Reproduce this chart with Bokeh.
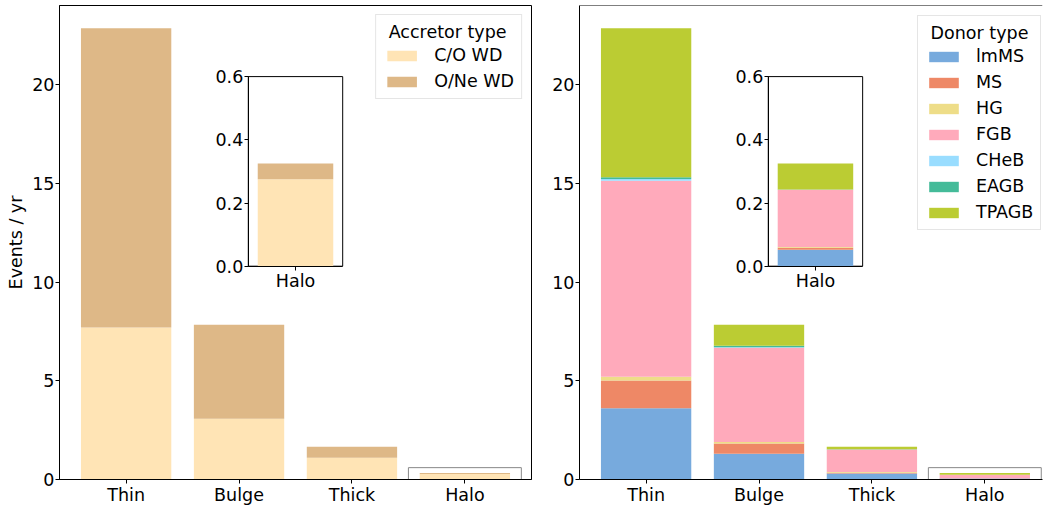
from bokeh.plotting import figure
from bokeh.models import (ColumnDataSource, Range1d, LinearAxis, FixedTicker,
                          SingleIntervalTicker, PrintfTickFormatter, Legend,
                          LegendItem, Span)
from bokeh.layouts import row
from bokeh.embed import file_html
from bokeh.resources import INLINE

# ---------------- data ----------------
categories = ["Thin", "Bulge", "Thick", "Halo"]

accretor_types = ["C/O WD", "O/Ne WD"]
accretor_colors = ["#FFE4B5", "#DEB887"]
co_wd = [7.69, 3.07, 1.10, 0.275]
one_wd = [15.16, 4.77, 0.56, 0.050]

donor_types = ["lmMS", "MS", "HG", "FGB", "CHeB", "EAGB", "TPAGB"]
donor_colors = ["#77AADD", "#EE8866", "#EEDD88", "#FFAABB", "#99DDFF", "#44BB99", "#BBCC33"]
lmms = [3.61, 1.30, 0.30, 0.052]
ms = [1.40, 0.52, 0.04, 0.006]
hg = [0.19, 0.08, 0.04, 0.003]
fgb = [9.93, 4.77, 1.14, 0.181]
cheb = [0.08, 0.03, 0.005, 0.0]
eagb = [0.10, 0.07, 0.005, 0.001]
tpagb = [7.54, 1.07, 0.13, 0.082]

inset_ticks = [0.0, 0.2, 0.4, 0.6]
inset_category = "Halo"

# ---------------- layout constants ----------------
FONT = "DejaVu Sans"
FS = "17.5px"
Y_MAX = 24.0
X_START = -0.59
X_END_FULL = 3.59
PX_PER_UNIT = 112.9
FRAME_H = 474
INSET_XLIM = (-0.5, 0.5)
INSET_YLIM = (0.0, 0.6)
# inset placement, in main-axes fractions (left, bottom, width, height)
INSET_BOX = (0.40, 0.45, 0.20, 0.40)
NBSP = "\u00a0"


def style_axis(ax):
    ax.axis_line_color = "black"
    ax.axis_line_width = 1
    ax.major_tick_line_color = "black"
    ax.major_tick_out = 4
    ax.major_tick_in = 0
    ax.minor_tick_line_color = None
    ax.major_label_text_font = FONT
    ax.major_label_text_font_size = FS
    ax.major_label_text_color = "black"
    ax.major_label_standoff = 1
    ax.axis_label_text_font = FONT
    ax.axis_label_text_font_size = FS
    ax.axis_label_text_font_style = "normal"
    ax.axis_label_text_color = "black"
    ax.axis_label_standoff = 3


def make_panel(names, colors, series, title, x_end, frame_w, mb_left, mb_right,
               ylabel=None, legend_loc="top_right", outline=True):
    p = figure(x_range=Range1d(X_START, x_end), y_range=Range1d(0, Y_MAX),
               frame_width=frame_w, frame_height=FRAME_H,
               min_border_left=mb_left, min_border_right=mb_right,
               min_border_top=5, min_border_bottom=26,
               output_backend="svg", toolbar_location=None,
               background_fill_color="white", border_fill_color="white")
    p.xgrid.visible = False
    p.ygrid.visible = False
    if outline:
        p.outline_line_color = "black"
        p.outline_line_alpha = 1
        p.outline_line_width = 1
    else:
        p.outline_line_color = None
        p.add_layout(Span(location=Y_MAX, dimension="width",
                          line_color="black", line_width=1))

    xs = list(range(len(categories)))
    keys = ["s%d" % i for i in range(len(names))]
    data = {"x": xs}
    for k, s in zip(keys, series):
        data[k] = s
    src = ColumnDataSource(data)
    rs = p.vbar_stack(keys, x="x", width=0.8, fill_color=colors,
                      line_color=None, source=src)

    # main axes
    xax = p.xaxis[0]
    xax.ticker = FixedTicker(ticks=xs)
    xax.major_label_overrides = {i: c for i, c in zip(xs, categories)}
    style_axis(xax)
    yax = p.yaxis[0]
    yax.ticker = SingleIntervalTicker(interval=5, num_minor_ticks=0)
    style_axis(yax)
    if ylabel:
        yax.axis_label = ylabel

    # inset indicator rectangle on the main axes
    hi = categories.index(inset_category)
    p.quad(left=hi + INSET_XLIM[0], right=hi + INSET_XLIM[1],
           bottom=INSET_YLIM[0], top=INSET_YLIM[1],
           fill_color=None, line_color="#888888", line_width=1)

    # inset ranges mapped onto the main frame
    fx0, fy0, fw, fh = INSET_BOX
    kx = (INSET_XLIM[1] - INSET_XLIM[0]) / (fw * (X_END_FULL - X_START))
    ix_start = INSET_XLIM[0] - (fx0 * (X_END_FULL - X_START)) * kx
    ix_end = ix_start + (x_end - X_START) * kx
    ky = (INSET_YLIM[1] - INSET_YLIM[0]) / (fh * Y_MAX)
    iy_start = INSET_YLIM[0] - fy0 * Y_MAX * ky
    iy_end = iy_start + Y_MAX * ky
    p.extra_x_ranges = {"ix": Range1d(ix_start, ix_end)}
    p.extra_y_ranges = {"iy": Range1d(iy_start, iy_end)}

    p.quad(left=INSET_XLIM[0], right=INSET_XLIM[1], bottom=INSET_YLIM[0],
           top=INSET_YLIM[1], fill_color="white", line_color="black",
           line_width=1, x_range_name="ix", y_range_name="iy")
    idata = {"x": [0]}
    for k, s in zip(keys, series):
        idata[k] = [s[hi]]
    isrc = ColumnDataSource(idata)
    p.vbar_stack(keys, x="x", width=0.8, fill_color=colors, line_color=None,
                 source=isrc, x_range_name="ix", y_range_name="iy")

    iyax = LinearAxis(x_range_name="ix", y_range_name="iy",
                      fixed_location=INSET_XLIM[0], bounds=INSET_YLIM,
                      ticker=FixedTicker(ticks=inset_ticks),
                      formatter=PrintfTickFormatter(format="%.1f"))
    style_axis(iyax)
    p.add_layout(iyax, "left")
    ixax = LinearAxis(x_range_name="ix", y_range_name="iy",
                      fixed_location=INSET_YLIM[0], bounds=INSET_XLIM,
                      ticker=FixedTicker(ticks=[0]),
                      major_label_overrides={0: inset_category})
    style_axis(ixax)
    p.add_layout(ixax, "below")

    legend = Legend(items=[LegendItem(label=n, renderers=[r]) for n, r in zip(names, rs)],
                    title=NBSP + title, location=legend_loc)
    legend.margin = 9
    legend.padding = 7
    legend.spacing = 6
    legend.glyph_width = 37
    legend.glyph_height = 13
    legend.label_height = 20
    legend.label_standoff = 14
    legend.title_standoff = 3
    legend.label_text_font = FONT
    legend.label_text_font_size = FS
    legend.label_text_color = "black"
    legend.title_text_font = FONT
    legend.title_text_font_size = FS
    legend.title_text_font_style = "normal"
    legend.title_text_color = "black"
    legend.border_line_color = "#cccccc"
    legend.border_line_width = 1
    legend.background_fill_color = "white"
    legend.background_fill_alpha = 0.8
    p.add_layout(legend)
    return p


W1 = round((X_END_FULL - X_START) * PX_PER_UNIT)
p1 = make_panel(accretor_types, accretor_colors, [co_wd, one_wd], "Accretor type",
                X_END_FULL, W1, 59, 12, ylabel="Events / yr", legend_loc="top_right")
W2 = 463
x_end2 = X_START + W2 / PX_PER_UNIT
p2 = make_panel(donor_types, donor_colors, [lmms, ms, hg, fgb, cheb, eagb, tpagb],
                "Donor type", x_end2, W2, 36, 1, legend_loc=(338, 249), outline=False)

layout = row(p1, p2)
open("out.html", "w").write(file_html(layout, INLINE))
